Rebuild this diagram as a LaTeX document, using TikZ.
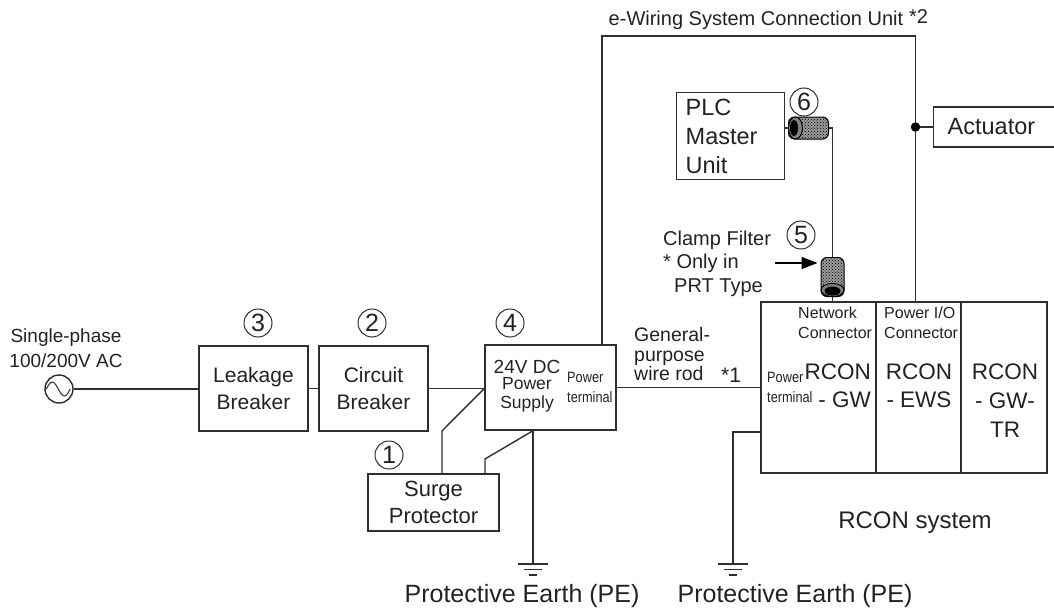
\documentclass[tikz,border=0pt]{standalone}
\usepackage{fontspec}
\setmainfont{Liberation Sans}
\newfontfamily\narrowfont[FakeStretch=0.85]{Liberation Sans}
\usepackage{xcolor}
\usetikzlibrary{shapes.geometric,arrows.meta,positioning,calc,patterns}
\definecolor{wireink}{HTML}{2E2E2E}
\definecolor{textink}{HTML}{222222}
\newcommand{\pxfont}[2]{\fontsize{#1}{#2}\selectfont}
\tikzset{
  unit/.style={rectangle,draw=wireink,line width=1.4pt,inner sep=0pt,
               align=center,text=textink},
  num/.style={circle,draw=wireink,line width=1pt,inner sep=0pt,minimum size=28pt,
              font=\pxfont{25}{25},text=textink},
  lbl/.style={inner sep=0pt,align=center,text=textink},
  lblleft/.style={inner sep=0pt,align=left,anchor=west,text=textink},
  wire/.style={draw=wireink,line width=1.4pt},
  ferrite/.style={rectangle,rounded corners=6pt,draw=black,line width=1pt,inner sep=0pt,
                  preaction={fill=black!40},pattern=crosshatch dots,pattern color=black},
  ferend/.style={ellipse,draw=black,line width=1pt,fill=black!50,inner sep=0pt},
  ferhole/.style={ellipse,fill=black,inner sep=0pt},
  pics/earth/.style={code={
    \draw[wire] (-15,0) -- (15,0);
    \draw[wire] (-9,5.5) -- (9,5.5);
    \draw[wire] (-4,11) -- (4,11);}},
}
\begin{document}
\begin{tikzpicture}[x=1pt,y=-1pt]
\useasboundingbox (0,0) rectangle (1054,610);
\clip (0,0) rectangle (1054,610);
% source and breakers
\node[lbl,font=\pxfont{19}{25}] (aclabel) at (66,348) {Single-phase\\100/200V AC};
\node[circle,draw=wireink,line width=1.4pt,minimum size=28pt,inner sep=0pt] (acsrc) at (59,389) {};
\node[unit,minimum width=109pt,minimum height=85pt,font=\pxfont{21}{27}] (leakage) at (253.5,388.5) {Leakage\\Breaker};
\node[unit,minimum width=109pt,minimum height=85pt,font=\pxfont{21}{27}] (circuit) at (373.5,388.5) {Circuit\\Breaker};
\node[unit,minimum width=131pt,minimum height=85pt] (psu) at (550.5,387.5) {};
\node[lbl,font=\pxfont{19}{19}] (psuvolt) at (527,367) {24V DC};
\node[lbl,font=\pxfont{17.5}{19}] (psuname) at (527,395) {Power\\Supply};
\node[lblleft,font=\narrowfont\pxfont{15}{20}] (psuterm) at (567,387) {Power\\terminal};
\node[unit,minimum width=131pt,minimum height=57pt,font=\pxfont{22}{27}] (surge) at (433.5,502.5) {Surge\\Protector};
% RCON units
\node[unit,minimum width=115pt,minimum height=171pt] (rcongw) at (818.5,387.5) {};
\node[unit,minimum width=85pt,minimum height=171pt] (rconews) at (918.5,387.5) {};
\node[unit,minimum width=86pt,minimum height=171pt] (rcontr) at (1004,387.5) {};
\node[lblleft,font=\pxfont{16}{20}] (netlabel) at (798,323) {Network\\Connector};
\node[lblleft,font=\pxfont{16}{20}] (iolabel) at (884,323) {Power I/O\\Connector};
\node[lblleft,font=\narrowfont\pxfont{15}{20}] (gwterm) at (767,387) {Power\\terminal};
\node[lbl,align=right,anchor=east,font=\pxfont{22.5}{28}] (gwname) at (871,386) {RCON\\- GW};
\node[lbl,font=\pxfont{22.5}{28}] (ewsname) at (919,386) {RCON\\- EWS};
\node[lbl,font=\pxfont{22.5}{29}] (trname) at (1005,401) {RCON\\- GW-\\TR};
\node[lbl,font=\pxfont{24}{24}] (syslabel) at (915,523) {RCON system};
% PLC and filters
\node[unit,align=left,anchor=north west,text width=90pt,inner xsep=9pt,minimum height=87pt,
      font=\pxfont{23.5}{29}] (plc) at (676,92) {PLC\\Master\\Unit};
\node[ferrite,minimum width=40pt,minimum height=22pt] (ferrite6) at (808.5,128) {};
\node[ferend,minimum width=14pt,minimum height=22pt] (ferrite6end) at (795.5,128) {};
\node[ferhole,minimum width=8pt,minimum height=16pt] (ferrite6hole) at (794,128) {};
\node[ferrite,minimum width=23pt,minimum height=39pt] (ferrite5) at (832.5,277) {};
\node[ferend,minimum width=23pt,minimum height=13pt] (ferrite5end) at (832.5,290) {};
\node[ferhole,minimum width=16pt,minimum height=9pt] (ferrite5hole) at (832.5,291) {};
\node[lblleft,font=\pxfont{20}{24}] (clamplabel) at (663,264) {Clamp Filter\\[-1pt]* Only in\\\hspace*{11pt}PRT Type};
\node[unit,anchor=west,align=left,text width=115pt,inner xsep=14pt,minimum height=40pt,
      font=\pxfont{23.5}{24}] (actuator) at (933,127) {Actuator};
% wire labels
\node[lbl,font=\pxfont{20}{20}] (wiringlabel) at (756,20) {e-Wiring System Connection Unit};
\node[lblleft,font=\pxfont{20}{20}] (wiringnote) at (909,17) {*2};
\node[lblleft,font=\pxfont{19.5}{19.5}] (rodlabel) at (634,354.5) {General-\\purpose\\wire rod};
\node[lblleft,font=\pxfont{21}{21}] (rodnote) at (721,375) {*1};
\node[lbl,font=\pxfont{25}{25}] (pelabela) at (522,596) {Protective Earth (PE)};
\node[lbl,font=\pxfont{25}{25}] (pelabelb) at (795,596) {Protective Earth (PE)};
% numbers
\node[num] (numthree) at (258,323) {3};
\node[num] (numtwo) at (372,323) {2};
\node[num] (numfour) at (510,323) {4};
\node[num] (numone) at (389,455) {1};
\node[num] (numsix) at (804,102) {6};
\node[num] (numfive) at (801,235) {5};
% named points
\coordinate (psuin) at (circuit.east -| psu.west);
\coordinate (surgea) at (442,431);
\coordinate (surgeb) at (485,459);
\coordinate (gnda) at (533,564);
\coordinate (gndb) at (733,564);
\coordinate (gwearth) at (761,432);
\coordinate (wirel) at (602,36);
\coordinate (wirer) at (915.5,36);
\coordinate (clampin) at (775,263);
% connectors
\draw[wire,line width=1pt] ([xshift=2pt]acsrc.west) sin ++(6,-7) cos ++(6,7) sin ++(6,7) cos ++(6,-7);
\draw[wire] (acsrc.east) -- (acsrc.east -| leakage.west);
\draw[wire] (leakage.east) -- (circuit.west);
\draw[wire] (circuit.east) -- (psuin);
\draw[wire] (psuin) -- (surgea) -- (surgea |- surge.north);
\draw[wire] (gnda |- psu.south) -- (surgeb) -- (surgeb |- surge.north);
\draw[wire] (gnda |- psu.south) -- (gnda);
\pic at (gnda) {earth};
\draw[wire] (psu.east) -- (rcongw.west);
\draw[wire] (gwearth) -- (gndb |- gwearth) -- (gndb);
\pic at (gndb) {earth};
\draw[wire] (wirel |- psu.north) -- (wirel) -- (wirer) -- (wirer |- rconews.north);
\node[circle,fill=black,minimum size=9.5pt,inner sep=0pt] (wiredot) at (wirer |- actuator.west) {};
\draw[wire] (wiredot) -- (actuator.west);
\draw[wire] (plc.east |- ferrite6.west) -- (ferrite6.west);
\draw[wire] (ferrite6.east) -| (ferrite5.north);
\draw[wire] (ferrite5.south) -- (ferrite5.south |- rcongw.north);
\draw[-{Triangle[length=16pt,width=12pt]},wire,draw=black,fill=black,shorten >=3pt] (clampin) -- (ferrite5.west |- clampin);
\end{tikzpicture}
\end{document}
